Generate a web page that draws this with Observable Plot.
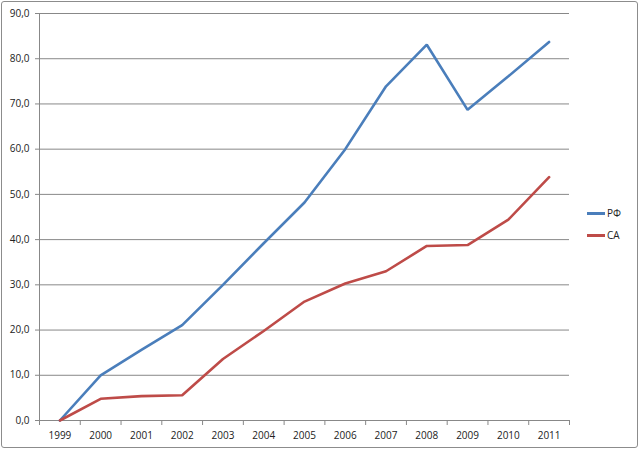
<!DOCTYPE html>
<html><head><meta charset="utf-8">
<script src="https://cdn.jsdelivr.net/npm/d3@7"></script>
<script src="https://cdn.jsdelivr.net/npm/@observablehq/plot@0.6"></script>
<style>
body{margin:0;background:#fff;}
#wrap{position:relative;width:640px;height:451px;overflow:hidden;}
#frame{position:absolute;left:1px;top:1px;width:635px;height:445px;border:1px solid #8c8c8c;border-radius:3px;}
#chart{position:absolute;left:0;top:0;}
.leg{position:absolute;font:10px "Open Sans",sans-serif;color:#222;display:flex;align-items:center;}
.leg span.l{display:inline-block;width:18px;height:3px;margin-right:2px;}
</style></head>
<body><div id="wrap"><div id="frame"></div><div id="chart"></div>
<div class="leg" style="left:587px;top:206px"><span class="l" style="background:#4A7EBB"></span>РФ</div>
<div class="leg" style="left:587px;top:228px"><span class="l" style="background:#BE4B48"></span>СА</div>
</div>
<script>
const years = [1999,2000,2001,2002,2003,2004,2005,2006,2007,2008,2009,2010,2011];
const rf = [0,10.0,15.6,21.1,30.0,39.2,48.2,60.0,73.9,83.1,68.7,76.1,83.7];
const ca = [0,4.8,5.4,5.6,13.6,19.8,26.3,30.3,33.0,38.6,38.8,44.4,53.8];
const seriesNames = ["РФ","СА"];
const colors = ["#4A7EBB","#BE4B48"];
const yTicks = [0,10,20,30,40,50,60,70,80,90];

const data = [];
years.forEach((y,i)=>{ data.push({year:y,v:rf[i],s:seriesNames[0]}); data.push({year:y,v:ca[i],s:seriesNames[1]}); });
const bounds = d3.range(years.length+1).map(i=>years[0]-0.5+i);
const fmt = v => v.toFixed(1).replace(".", ",");

const chart = Plot.plot({
  width:640, height:451,
  marginLeft:39, marginRight:71, marginTop:13, marginBottom:31,
  style:{fontFamily:"'Open Sans',sans-serif", fontSize:"10px", color:"#222", background:"transparent"},
  x:{type:"linear", domain:[years[0]-0.5, years[years.length-1]+0.5]},
  y:{domain:[0,90]},
  color:{domain:seriesNames, range:colors},
  marks:[
    Plot.ruleY(yTicks.slice(1), {stroke:"#888", strokeWidth:1}),
    Plot.ruleY([0], {stroke:"#888"}),
    Plot.ruleX([bounds[0]], {stroke:"#888"}),
    Plot.axisY({ticks:yTicks, tickFormat:fmt, tickSize:4, tickPadding:6, stroke:"#888", label:null, fontSize:10}),
    Plot.axisX({ticks:bounds, tickSize:5, tickFormat:()=>"", stroke:"#888", label:null}),
    Plot.axisX({ticks:years, tickSize:0, tickPadding:11, tickFormat:d=>String(d), label:null}),
    Plot.line(data, {x:"year", y:"v", z:"s", stroke:"s", strokeWidth:2.6, strokeLinejoin:"miter"})
  ]
});
document.getElementById("chart").appendChild(chart);
</script></body></html>
